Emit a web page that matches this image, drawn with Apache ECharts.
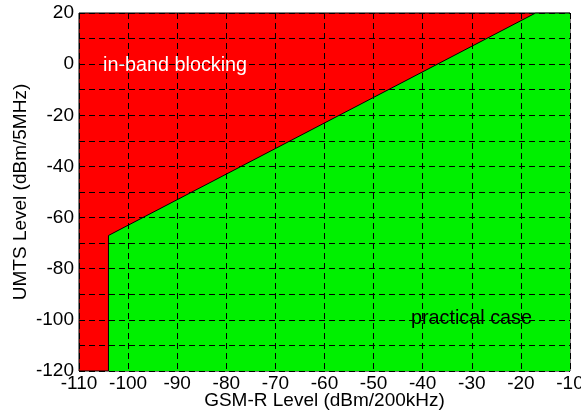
<!DOCTYPE html>
<html>
<head>
<meta charset="utf-8">
<script src="https://cdn.jsdelivr.net/npm/echarts@6/dist/echarts.min.js"></script>
<style>html,body{margin:0;padding:0;background:#fff}#c{width:581px;height:415px}</style>
</head>
<body>
<div id="c"></div>
<script>
// Boundary of the "practical case" region (GSM-R level, UMTS level)
const edgeX = [-104, -104, -17, -10];
const edgeY = [-120, -67, 20, 20];
const xTicks = [-110, -100, -90, -80, -70, -60, -50, -40, -30, -20, -10];
const yTicks = [-120, -100, -80, -60, -40, -20, 0, 20];
const regionLabels = ['in-band blocking', 'practical case'];
const xTitle = 'GSM-R Level (dBm/200kHz)';
const yTitle = 'UMTS Level (dBm/5MHz)';

const FONT = 'Liberation Sans, Arial, sans-serif';
const chart = echarts.init(document.getElementById('c'), null, {renderer: 'canvas'});
const dashed = {show: true, lineStyle: {color: '#000', width: 1, type: [6, 4]}};

chart.setOption({
  animation: false,
  grid: {left: 79, right: 11, top: 13, bottom: 44, show: true, outerBoundsMode: 'none',
         backgroundColor: '#ff0000', borderColor: '#000', borderWidth: 1},
  xAxis: {
    type: 'value', min: xTicks[0], max: xTicks[xTicks.length - 1], interval: 10, z: 10,
    axisLine: {show: false}, axisTick: {show: false},
    splitLine: dashed,
    axisLabel: {color: '#000', fontSize: 19, fontFamily: FONT, margin: 3,
                formatter: v => xTicks.includes(v) ? String(v) : ''},
    name: xTitle, nameLocation: 'middle', nameGap: 20, nameMoveOverlap: false,
    nameTextStyle: {color: '#000', fontSize: 19, fontFamily: FONT}
  },
  yAxis: {
    type: 'value', min: yTicks[0], max: yTicks[yTicks.length - 1], interval: 10, z: 10,
    axisLine: {show: false}, axisTick: {show: false},
    splitLine: dashed,
    axisLabel: {color: '#000', fontSize: 19, fontFamily: FONT, margin: 5,
                formatter: v => yTicks.includes(v) ? String(v) : ''},
    name: yTitle, nameLocation: 'middle', nameGap: 49, nameMoveOverlap: false,
    nameTextStyle: {color: '#000', fontSize: 19, fontFamily: FONT}
  },
  series: [{
    type: 'line',
    data: edgeX.map((x, i) => [x, edgeY[i]]),
    symbol: 'none',
    lineStyle: {color: '#000', width: 1},
    areaStyle: {color: '#00f000', opacity: 1, origin: 'start'},
    z: 2
  }],
  graphic: [
    {type: 'text', left: 103, top: 56, z: 100,
     style: {text: regionLabels[0], fill: '#fff', font: '19.8px ' + FONT}},
    {type: 'text', left: 411, top: 309, z: 100,
     style: {text: regionLabels[1], fill: '#000', font: '19.8px ' + FONT}}
  ]
});
</script>
</body>
</html>
